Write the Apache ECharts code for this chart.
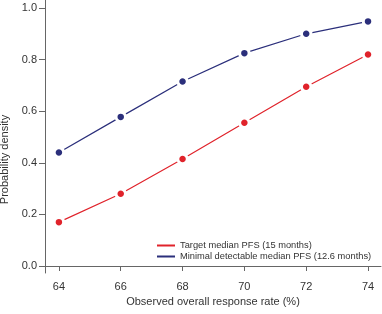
<!DOCTYPE html>
<html><head><meta charset="utf-8">
<script src="https://cdn.jsdelivr.net/npm/echarts@6/dist/echarts.min.js"></script>
<style>html,body{margin:0;padding:0;background:#fff}#c{width:382px;height:314px}</style>
</head><body><div id="c"></div>
<script>
const categories = [64, 66, 68, 70, 72, 74];
const targetPFS = [0.17, 0.28, 0.415, 0.555, 0.695, 0.82];
const minimalPFS = [0.44, 0.578, 0.715, 0.825, 0.90, 0.948];
const yTicks = [0, 0.2, 0.4, 0.6, 0.8, 1.0];
const seriesNames = ['Target median PFS (15 months)', 'Minimal detectable median PFS (12.6 months)'];
const colors = ['#e0232b', '#2b2f7b'];

const font = 'Liberation Sans, Arial, Helvetica, sans-serif';
const chart = echarts.init(document.getElementById('c'));
function mk(name, vals, color) {
  return {
    name: name, type: 'line',
    data: categories.map((c, i) => [c, vals[i]]),
    symbol: 'circle', symbolSize: 9.5,
    lineStyle: { color: color, width: 1.2 },
    itemStyle: { color: color, borderColor: '#fff', borderWidth: 3 },
    emphasis: { disabled: true },
    animation: false
  };
}
chart.setOption({
  animation: false,
  grid: { left: 45, right: 1, top: 0, bottom: 41, outerBoundsMode: 'none', containLabel: false },
  legend: {
    orient: 'vertical', left: 152, top: 236, itemWidth: 18, itemHeight: 2, itemGap: 2,
    textStyle: { fontFamily: font, fontSize: 9.3, color: '#333' },
    data: seriesNames.map((n, i) => ({ name: n, icon: 'rect',
      itemStyle: { color: colors[i], borderWidth: 0 } }))
  },
  xAxis: {
    type: 'value', min: 63.55, max: 74.42,
    name: 'Observed overall response rate (%)', nameLocation: 'middle', nameGap: 19,
    nameTextStyle: { fontFamily: font, fontSize: 11, color: '#333' },
    axisLine: { lineStyle: { color: '#666', width: 1 } },
    axisTick: { show: true, length: 5, lineStyle: { color: '#666' }, customValues: categories },
    axisLabel: { fontFamily: font, fontSize: 11, color: '#333', margin: 8, customValues: categories },
    splitLine: { show: false }
  },
  yAxis: {
    type: 'value', min: -0.0271, max: 1.031,
    name: 'Probability density', nameLocation: 'middle', nameGap: 30, nameRotate: 90,
    nameTextStyle: { fontFamily: font, fontSize: 11, color: '#333', padding: [0, 46, 0, 0] },
    axisLine: { show: true, lineStyle: { color: '#666', width: 1 } },
    axisTick: { show: true, length: 6, lineStyle: { color: '#666' }, customValues: yTicks },
    axisLabel: { fontFamily: font, fontSize: 11, color: '#333', margin: 8, customValues: yTicks,
      formatter: v => v.toFixed(1) },
    splitLine: { show: false }
  },
  series: [mk(seriesNames[0], targetPFS, colors[0]), mk(seriesNames[1], minimalPFS, colors[1])]
});
</script></body></html>
